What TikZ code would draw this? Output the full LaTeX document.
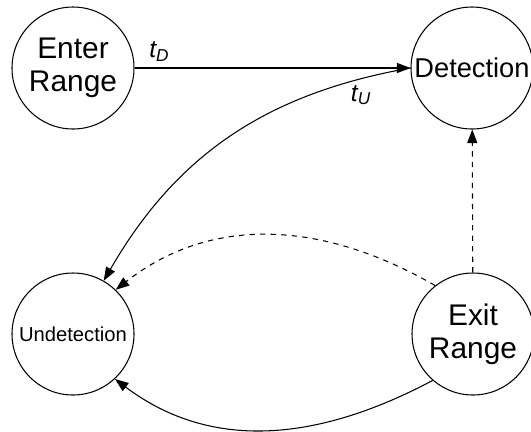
\documentclass[tikz,border=0pt]{standalone}
\usepackage{fontspec}
\setmainfont{Liberation Sans}
\usetikzlibrary{arrows.meta}

\begin{document}
\begin{tikzpicture}[phase/.style={draw,circle,line width=0.6pt,minimum size=2.44cm,inner sep=0pt,align=center,font=\fontsize{17}{19}\selectfont},
          tr/.style={line width=0.6pt,-{Triangle[length=2.7mm,width=2mm]}},
          lbl/.style={font=\fontsize{14}{16}\selectfont\itshape}]
          \useasboundingbox (0,0) rectangle (10.62,-8.62);
          \node[phase] (enter) at (1.46,-1.36) {Enter\\Range};
          \node[phase,font=\fontsize{15.5}{17}\selectfont] (det) at (9.44,-1.36) {Detection};
          \node[phase,font=\fontsize{11.5}{13}\selectfont] (undet) at (1.46,-6.68) {Undetection};
          \node[phase] (exit) at (9.46,-6.68) {Exit\\Range};
            \draw[tr] (enter) -- node[lbl,pos=0.09,above] (td) {t\textsubscript{D}} (det);
            \draw[tr] (det.west) to[out=190,in=60] node[lbl,pos=0.12,below=0pt] (tu) {t\textsubscript{U}} (undet.60);
            \draw[tr,dashed] (exit) -- (det);
            \draw[tr,dashed] (exit.128) to[out=150,in=38] (undet.46);
            \draw[tr] (exit.229) to[out=208,in=-37] (undet.-47);
        \end{tikzpicture}
\end{document}
